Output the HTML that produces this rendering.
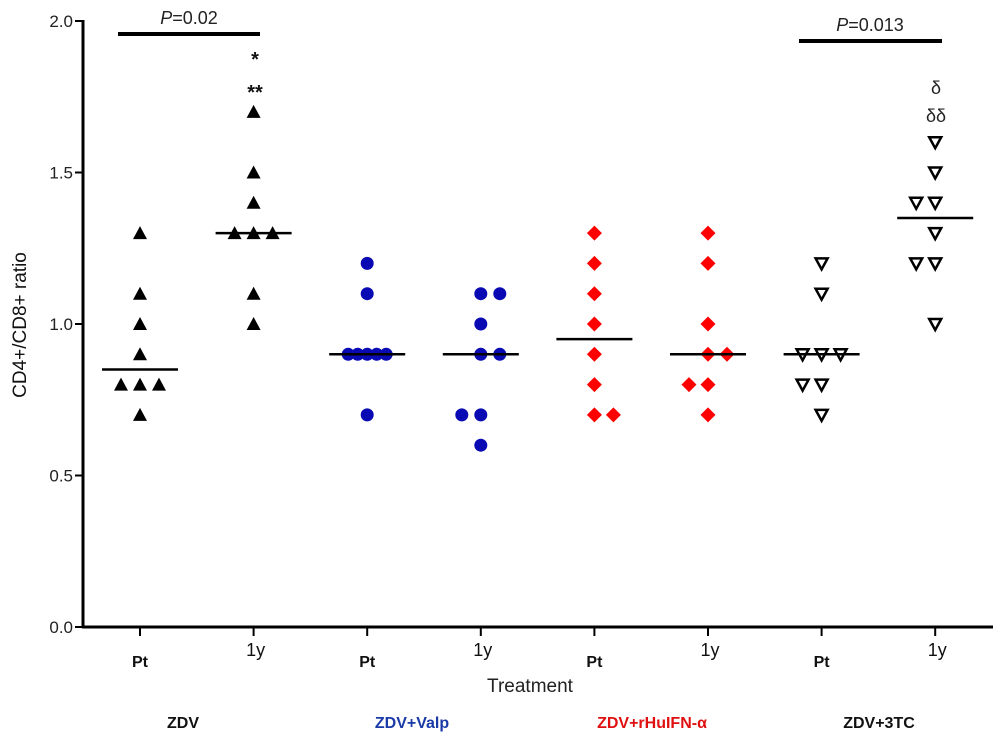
<!DOCTYPE html>
<html><head><meta charset="utf-8"><style>
body{margin:0;background:#fff}
svg text{font-family:"Liberation Sans",sans-serif}
</style></head><body>
<svg id="chart" width="1000" height="740" viewBox="0 0 1000 740" xmlns="http://www.w3.org/2000/svg">
<g id="axes"></g>
<g id="marks"></g>
<text transform="translate(26,325) rotate(-90)" text-anchor="middle" font-size="19" fill="#111">CD4+/CD8+ ratio</text>
<text x="530" y="692" text-anchor="middle" font-size="19" fill="#222">Treatment</text>
<text x="183" y="728" text-anchor="middle" font-size="16" font-weight="bold" fill="#111">ZDV</text>
<text x="412" y="728" text-anchor="middle" font-size="16" font-weight="bold" fill="#1a3aa8">ZDV+Valp</text>
<text x="652" y="728" text-anchor="middle" font-size="16" font-weight="bold" fill="#e01010">ZDV+rHuIFN-α</text>
<text x="879" y="728" text-anchor="middle" font-size="16" font-weight="bold" fill="#111">ZDV+3TC</text>
<line x1="118" y1="34" x2="260" y2="34" stroke="#000" stroke-width="4"/>
<text x="189" y="24" text-anchor="middle" font-size="18" fill="#222"><tspan font-style="italic">P</tspan>=0.02</text>
<line x1="799" y1="41" x2="942" y2="41" stroke="#000" stroke-width="4"/>
<text x="870" y="31" text-anchor="middle" font-size="18" fill="#222"><tspan font-style="italic">P</tspan>=0.013</text>
<text x="255" y="66" text-anchor="middle" font-size="20" font-weight="bold" fill="#111">*</text>
<text x="255" y="99" text-anchor="middle" font-size="20" font-weight="bold" fill="#111">**</text>
<text x="936" y="94" text-anchor="middle" font-size="18" fill="#222" font-family="Liberation Serif">δ</text>
<text x="936" y="122" text-anchor="middle" font-size="18" fill="#222" font-family="Liberation Serif">δδ</text>
</svg>
<script>
const categories=["Pt","1y","Pt","1y","Pt","1y","Pt","1y"];
const yTicks=[0,0.5,1.0,1.5,2.0];
const tickLabels=["0.0","0.5","1.0","1.5","2.0"];
const v1=[1.3,1.1,1.0,0.9,0.8,0.8,0.8,0.7];
const v2=[1.7,1.5,1.4,1.3,1.3,1.3,1.1,1.0];
const v3=[1.2,1.1,0.9,0.9,0.9,0.9,0.9,0.7];
const v4=[1.1,1.1,1.0,0.9,0.9,0.7,0.7,0.6];
const v5=[1.3,1.2,1.1,1.0,0.9,0.8,0.7,0.7];
const v6=[1.3,1.2,1.0,0.9,0.9,0.8,0.8,0.7];
const v7=[1.2,1.1,0.9,0.9,0.9,0.8,0.8,0.7];
const v8=[1.6,1.5,1.4,1.4,1.3,1.2,1.2,1.0];
const col1=[0,0,0,0,-1,0,1,0];
const col2=[0,0,0,-1,0,1,0,0];
const col3=[0,0,-1,-0.5,0,0.5,1,0];
const col4=[0,1,0,0,1,-1,0,0];
const col5=[0,0,0,0,0,0,0,1];
const col6=[0,0,0,0,1,-1,0,0];
const col7=[0,0,-1,0,1,-1,0,0];
const col8=[0,0,-1,0,0,-1,0,0];
const medians=[0.85,1.3,0.9,0.9,0.95,0.9,0.9,1.35];
const values=[v1,v2,v3,v4,v5,v6,v7,v8];
const cols=[col1,col2,col3,col4,col5,col6,col7,col8];
const shapes=["tri","tri","circ","circ","dia","dia","itri","itri"];
const colors=["#000","#000","#0a0ab4","#0a0ab4","#ff0000","#ff0000","#000","#000"];

const NS="http://www.w3.org/2000/svg";
const y=v=>627-v*303;
const x=i=>140+i*113.6;
const axes=document.getElementById('axes'), marks=document.getElementById('marks');
function mk(tag,attrs,parent){const e=document.createElementNS(NS,tag);for(const k in attrs)e.setAttribute(k,attrs[k]);parent.appendChild(e);return e;}
let e=mk('line',{x1:83,y1:y(2)-1,x2:83,y2:628,stroke:'#000','stroke-width':3},axes);


e=mk('line',{x1:82,y1:627,x2:993,y2:627,stroke:'#000','stroke-width':3},axes);


yTicks.forEach((t,i)=>{
  let l=mk('line',{x1:75,y1:y(t),x2:83,y2:y(t),stroke:'#000','stroke-width':2},axes);
  
  
  let tx=mk('text',{x:73,y:y(t)+6,'text-anchor':'end','font-size':17,fill:'#222'},axes);
  tx.textContent=tickLabels[i];
  
  
});
categories.forEach((c,i)=>{
  let l=mk('line',{x1:x(i),y1:627,x2:x(i),y2:636,stroke:'#000','stroke-width':2},axes);
  
  
  const bold=c==="Pt";
  let tx=mk('text',{x:x(i)+(bold?0:2),y:bold?667:656,'text-anchor':'middle','font-size':bold?16:18,'font-weight':bold?'bold':'normal',fill:'#111'},axes);
  tx.textContent=c;
  
  
});
values.forEach((vals,g)=>{
  vals.forEach((v,k)=>{
    const cx=x(g)+cols[g][k]*19, cy=y(v), s=shapes[g], c=colors[g];
    let m;
    if(s==='tri') m=mk('polygon',{points:`${cx-7},${cy+6} ${cx+7},${cy+6} ${cx},${cy-7}`,fill:c},marks);
    else if(s==='itri') m=mk('polygon',{points:`${cx-6},${cy-5} ${cx+6},${cy-5} ${cx},${cy+6}`,fill:'#fff',stroke:c,'stroke-width':2.5,'stroke-linejoin':'miter'},marks);
    else if(s==='circ') m=mk('circle',{cx:cx,cy:cy,r:6.5,fill:c},marks);
    else m=mk('polygon',{points:`${cx},${cy-7.5} ${cx+7.5},${cy} ${cx},${cy+7.5} ${cx-7.5},${cy}`,fill:c},marks);
    
    
  });
  let ml=mk('line',{x1:x(g)-38,y1:y(medians[g]),x2:x(g)+38,y2:y(medians[g]),stroke:'#000','stroke-width':2.5},marks);
  
  
});
</script>
</body></html>
